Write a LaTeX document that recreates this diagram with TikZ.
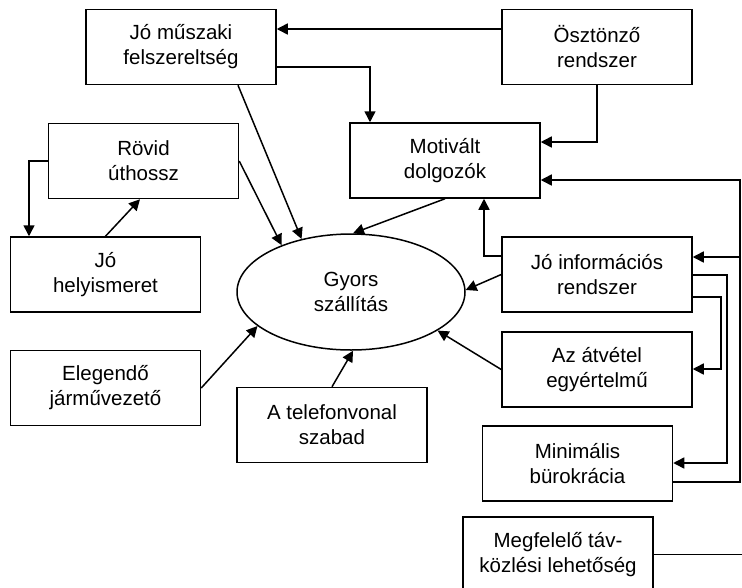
\documentclass[tikz,border=0pt]{standalone}
\usepackage{fontspec}
\setmainfont{Liberation Sans}
\usetikzlibrary{arrows.meta,shapes.geometric,calc}
\tikzset{
  box/.style={draw, line width=1.5pt, minimum width=190pt, minimum height=75pt, inner sep=0pt, align=center, font=\fontsize{20.5}{25}\selectfont},
  oval/.style={draw, ellipse, line width=1.5pt, minimum width=228pt, minimum height=116pt, inner sep=0pt, align=center, font=\fontsize{20.5}{25}\selectfont},
  arr/.style={line width=1.5pt, -{Triangle[length=11pt,width=11pt]}},
  ln/.style={line width=1.5pt}
}
\begin{document}
\begin{tikzpicture}[x=1pt,y=-1pt]
\useasboundingbox (0,0) rectangle (742,587);
\fill[white] (0,0) rectangle (742,587);
\clip (0,0) rectangle (742,587);

\node[box] (muszaki) at (181,47) {Jó műszaki\\felszereltség};
\node[box] (osztonzo) at (597,47) {Ösztönző\\rendszer};
\node[box] (rovid) at (143.5,161) {Rövid\\úthossz};
\node[box] (motivalt) at (445,160.5) {Motivált\\dolgozók};
\node[box] (helyis) at (105.5,274.5) {Jó\\helyismeret};
\node[box] (info) at (597,274.5) {Jó információs\\rendszer};
\node[box] (atvetel) at (597,369.5) {Az átvétel\\egyértelmű};
\node[box] (elegendo) at (105.5,388) {Elegendő\\járművezető};
\node[box] (telefon) at (332,425) {A telefonvonal\\szabad};
\node[box] (minimalis) at (577.5,463.5) {Minimális\\bürokrácia};
\node[box] (megfelelo) at (558,554.5) {Megfelelő táv-\\közlési lehetőség};
\node[oval] (gyors) at (351,292) {Gyors\\szállítás};

\coordinate (R) at (740,0);
\coordinate (R2) at (745,0);

% top
\draw[arr] (osztonzo.west |- 0,29) -- (muszaki.east |- 0,29);
\draw[arr] (muszaki.east |- 0,67) -| (motivalt.north -| 370,0);
\draw[arr] (osztonzo.south) |- (motivalt.east |- 0,142);

% right bus
\draw[arr] (minimalis.east |- 0,482) -- (R |- 0,482) |- (motivalt.east |- 0,180);
\draw[arr] (R |- 0,257) -- (info.east |- 0,257);
\draw[arr] (info.east |- 0,275) -- (727,275) |- (minimalis.east |- 0,463);
\draw[arr] (info.east |- 0,297) -- (721,297) |- (atvetel.east |- 0,369);
\draw[ln] (megfelelo.east) -- (R2 |- megfelelo.east);

% info to motivalt
\draw[arr] (info.west |- 0,256) -| (motivalt.south -| 484,0);

% into gyors
\draw[arr] (rovid.east) -- (gyors.146.9);
\draw[arr] (muszaki.south -| 238,0) -- (gyors.133.4);
\draw[arr] (motivalt.south) -- (gyors.88);
\draw[arr] (info.west) -- (gyors.1);
\draw[arr] (atvetel.west) -- (gyors.-24.2);
\draw[arr] (telefon.north) -- (gyors.-88);
\draw[arr] (elegendo.east) -- (gyors.-160.5);

% left
\draw[arr] (helyis.north) -- (rovid.south -| 140,0);
\draw[arr] (rovid.west) -| (helyis.north -| 29,0);
\end{tikzpicture}
\end{document}
